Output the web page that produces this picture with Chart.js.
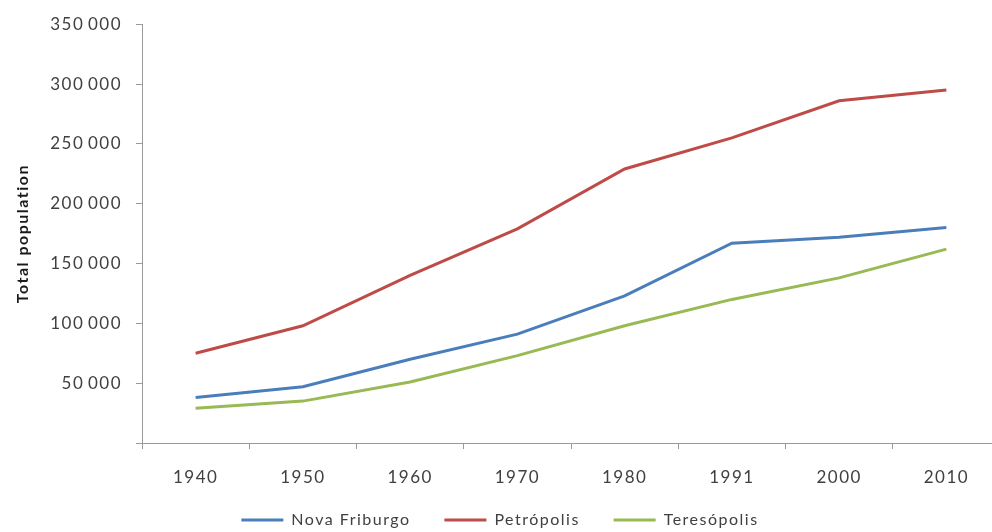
<!DOCTYPE html>
<html lang="en">

<head>
    <meta charset="UTF-8">
    <title>Total population</title>
    <script src="https://cdn.jsdelivr.net/npm/chart.js"></script>
    <style>
        html, body { margin: 0; padding: 0; background: #fff; }
        #frame { width: 992px; height: 532px; overflow: hidden; position: relative; }
        #wrap { width: 1014px; height: 538px; position: absolute; left: 0; top: 0; }
    </style>
</head>

<body>
    <div id="frame">
        <div id="wrap"><canvas id="popChart" width="1014" height="538"></canvas></div>
    </div>
    <script>
        const years = ['1940', '1950', '1960', '1970', '1980', '1991', '2000', '2010'];
        const novaFriburgo = [38000, 47000, 70000, 91000, 123000, 167000, 172000, 180000];
        const petropolis = [75000, 98000, 140000, 179000, 229000, 255000, 286000, 295000];
        const teresopolis = [29000, 35000, 51000, 73000, 98000, 120000, 138000, 162000];

        // wide, spaced-out lettering like the spreadsheet export
        const spacing = {
            id: 'spacing',
            beforeUpdate(chart) { chart.ctx.letterSpacing = '1.5px'; },
            beforeDraw(chart) { chart.ctx.letterSpacing = '1.5px'; }
        };

        // 350000 -> "350 000" with a thin space
        function fmt(v) {
            if (v === 0) return '';
            return String(v).replace(/\B(?=(\d{3})+(?!\d))/g, '\u2009');
        }

        const axisColor = '#9a9a9a';
        const textColor = '#404040';

        const ctx = document.getElementById('popChart').getContext('2d');
        new Chart(ctx, {
            type: 'line',
            data: {
                labels: years,
                datasets: [
                    { label: 'Nova Friburgo', data: novaFriburgo, borderColor: '#4a7ebb', backgroundColor: '#4a7ebb' },
                    { label: 'Petrópolis', data: petropolis, borderColor: '#be4b48', backgroundColor: '#be4b48' },
                    { label: 'Teresópolis', data: teresopolis, borderColor: '#98b954', backgroundColor: '#98b954' }
                ]
            },
            options: {
                responsive: false,
                animation: false,
                layout: { padding: { top: 20, right: 14, bottom: 0, left: 0 } },
                elements: {
                    line: { borderWidth: 3, tension: 0 },
                    point: { radius: 0, hoverRadius: 0 }
                },
                scales: {
                    x: {
                        offset: true,
                        grid: { drawOnChartArea: false, offset: true, tickLength: 6, color: axisColor },
                        border: { color: axisColor, width: 1 },
                        ticks: { color: textColor, padding: 18, font: { family: 'Lato', size: 17 } },
                        afterFit(scale) { scale.height = 52; }
                    },
                    y: {
                        min: 0,
                        max: 350000,
                        grid: { drawOnChartArea: false, tickLength: 6, color: axisColor },
                        border: { color: axisColor, width: 1 },
                        ticks: {
                            stepSize: 50000,
                            color: textColor,
                            padding: 14,
                            font: { family: 'Lato', size: 17 },
                            callback: (v) => fmt(v)
                        },
                        title: {
                            display: true,
                            text: 'Total population',
                            color: '#1a1a1a',
                            padding: { top: 13, bottom: 0 },
                            font: { family: 'Lato', size: 16, weight: 'bold' }
                        },
                        afterFit(scale) { scale.width = 142; }
                    }
                },
                plugins: {
                    tooltip: { enabled: false },
                    legend: {
                        position: 'bottom',
                        labels: {
                            boxWidth: 42,
                            boxHeight: 3,
                            padding: 17,
                            color: textColor,
                            font: { family: 'Lato', size: 16 },
                            generateLabels(chart) {
                                const items = Chart.defaults.plugins.legend.labels.generateLabels(chart);
                                items.forEach((it, i) => {
                                    it.lineWidth = 0;
                                    it.fillStyle = it.strokeStyle;
                                    // a little extra room between entries
                                    if (i < items.length - 1) it.text += '   ';
                                });
                                return items;
                            }
                        }
                    }
                }
            },
            plugins: [spacing]
        });
    </script>
</body>

</html>
